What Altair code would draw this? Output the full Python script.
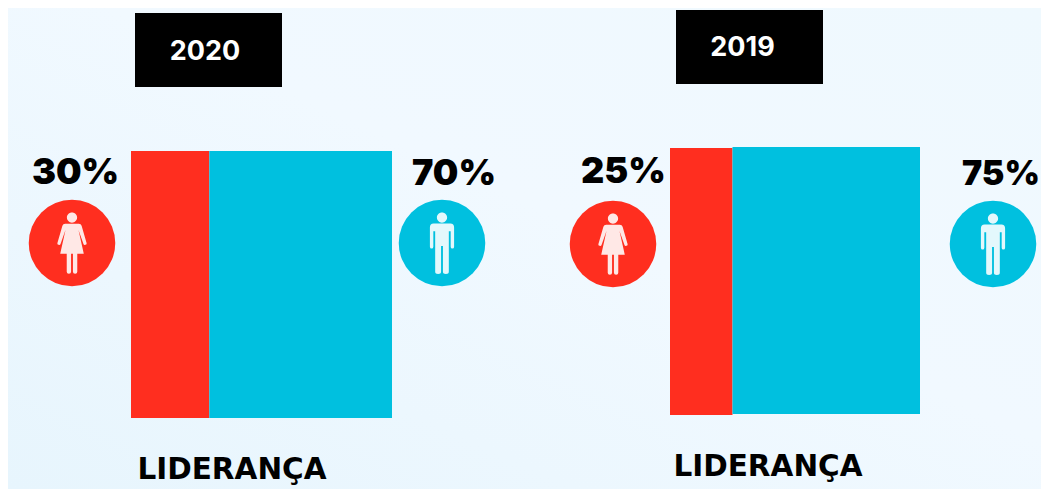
import altair as alt

years = ["2020", "2019"]
groups = ["Mulheres", "Homens"]
shares_2020 = [30, 70]
shares_2019 = [25, 75]
category = "LIDERANÇA"

RED = "#FF2E1F"
BLUE = "#00C0DF"
FONT = "Inter"
OX, OY = 8, 8  # page margin
W, H = 1033, 481


def px(v):
    return alt.value(v - OX)


def py(v):
    return alt.value(v - OY)


FEMALE = (
    "M0,-0.985 A0.165,0.165 0 1 1 0,-0.655 A0.165,0.165 0 1 1 0,-0.985 Z "
    "M-0.22,-0.62 L0.22,-0.62 Q0.29,-0.62 0.31,-0.56 L0.47,0.0 Q0.48,0.05 0.43,0.06 "
    "Q0.38,0.07 0.37,0.03 L0.21,-0.42 L0.38,0.35 L0.17,0.35 L0.17,0.93 Q0.17,0.99 0.1,0.99 "
    "Q0.03,0.99 0.03,0.93 L0.03,0.35 L-0.03,0.35 L-0.03,0.93 Q-0.03,0.99 -0.1,0.99 "
    "Q-0.17,0.99 -0.17,0.93 L-0.17,0.35 L-0.38,0.35 L-0.21,-0.42 L-0.37,0.03 "
    "Q-0.38,0.07 -0.43,0.06 Q-0.48,0.05 -0.47,0.0 L-0.31,-0.56 Q-0.29,-0.62 -0.22,-0.62 Z"
)
MALE = (
    "M0,-0.985 A0.165,0.165 0 1 1 0,-0.655 A0.165,0.165 0 1 1 0,-0.985 Z "
    "M-0.27,-0.63 L0.27,-0.63 Q0.39,-0.63 0.39,-0.5 L0.39,0.12 Q0.39,0.18 0.335,0.18 "
    "Q0.28,0.18 0.28,0.12 L0.28,-0.38 L0.22,-0.38 L0.22,0.93 Q0.22,1.0 0.125,1.0 "
    "Q0.03,1.0 0.03,0.93 L0.03,0.1 L-0.03,0.1 L-0.03,0.93 Q-0.03,1.0 -0.125,1.0 "
    "Q-0.22,1.0 -0.22,0.93 L-0.22,-0.38 L-0.28,-0.38 L-0.28,0.12 Q-0.28,0.18 -0.335,0.18 "
    "Q-0.39,0.18 -0.39,0.12 L-0.39,-0.5 Q-0.39,-0.63 -0.27,-0.63 Z"
)


def stacked_bar(shares, left, right, tops):
    """One 100% bar drawn as two segments through a 0-100 share scale."""
    layers = []
    start = 0
    for group, share, colour, top in zip(groups, shares, [RED, BLUE], tops):
        seg = (
            alt.Chart(alt.Data(values=[{"group": group, "start": start, "end": start + share}]))
            .mark_rect(color=colour)
            .encode(
                x=alt.X("start:Q", axis=None,
                        scale=alt.Scale(domain=[0, 100], range=[left - OX, right - OX], nice=False, zero=False)),
                x2="end:Q",
                y=py(top),
                y2=py(top + 267),
            )
        )
        layers.append(seg)
        start += share
    return layers


def box(x0, x1, y0, y1):
    return alt.Chart(alt.Data(values=[{"a": 1}])).mark_rect(color="#000000").encode(
        x=px(x0), x2=px(x1), y=py(y0), y2=py(y1)
    )


def label(text, cx, base, size, colour="#000000", weight=800, font=FONT):
    return alt.Chart(alt.Data(values=[{"t": text}])).mark_text(
        font=font, fontWeight=weight, fontSize=size, color=colour,
        align="center", baseline="alphabetic",
    ).encode(text="t:N", x=px(cx), y=py(base))


def badge(cx, cy, colour, glyph):
    data = alt.Data(values=[{"a": 1}])
    disc = alt.Chart(data).mark_point(filled=True, shape="circle", size=7482, color=colour, opacity=1).encode(
        x=px(cx), y=py(cy)
    )
    person = alt.Chart(data).mark_point(
        filled=True, shape=glyph, size=3844, color="#FFFFFF", opacity=0.89, strokeWidth=0
    ).encode(x=px(cx), y=py(cy))
    return [disc, person]


backdrop = alt.Chart(alt.Data(values=[{"a": 1}])).mark_rect(
    fill=alt.LinearGradient(
        gradient="linear", x1=0, y1=1, x2=1, y2=0,
        stops=[
            alt.GradientStop(color="#E7F5FD", offset=0),
            alt.GradientStop(color="#F1F9FF", offset=0.55),
            alt.GradientStop(color="#EFF9FE", offset=1),
        ],
    )
).encode(x=alt.value(0), x2=alt.value(W), y=alt.value(0), y2=alt.value(H))

layers = [backdrop]
layers += stacked_bar(shares_2020, 131, 392, [151, 151])
layers += stacked_bar(shares_2019, 670, 920, [148, 147])
layers += [box(135, 282, 13, 87), box(676, 823, 10, 84)]
layers += [label(years[0], 205, 60, 27, "#FFFFFF", 700), label(years[1], 742.5, 56, 27, "#FFFFFF", 700)]
layers += [
    label(f"{shares_2020[0]}%", 75.5, 184, 36, weight=900),
    label(f"{shares_2020[1]}%", 454, 185, 36, weight=900),
    label(f"{shares_2019[0]}%", 623.5, 183, 36, weight=900),
    label(f"{shares_2019[1]}%", 1001, 185, 34, weight=900),
]
layers += badge(72, 243, RED, FEMALE) + badge(442, 243, BLUE, MALE)
layers += badge(613, 244, RED, FEMALE) + badge(993, 244, BLUE, MALE)
layers += [
    label(category, 232, 479, 29.5, weight=700, font="DejaVu Sans"),
    label(category, 768, 476, 29.5, weight=700, font="DejaVu Sans"),
]

chart = (
    alt.layer(*layers)
    .resolve_scale(x="independent")
    .properties(
        width=W, height=H, padding=0, background="#EFF8FE",
        autosize=alt.AutoSizeParams(type="none"),
    )
    .configure_view(stroke=None)
)

chart.save("out.html", embed_options={"renderer": "svg", "actions": False})
